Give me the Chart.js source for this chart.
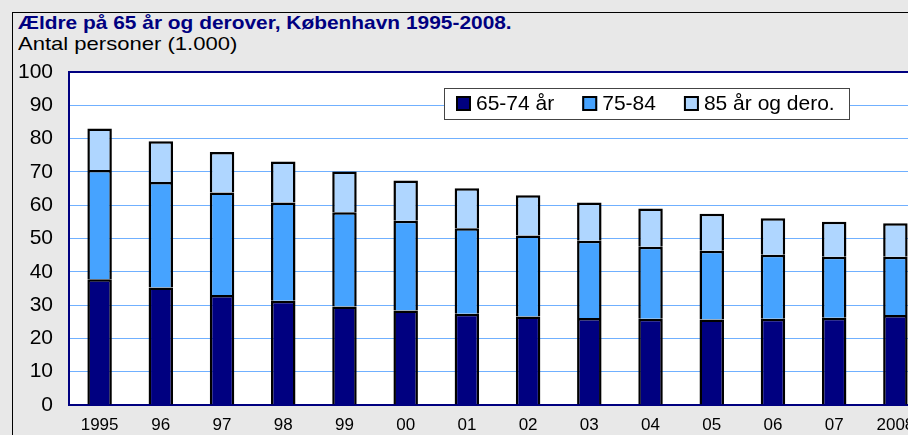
<!DOCTYPE html>
<html>
<head>
<meta charset="utf-8">
<script src="https://cdn.jsdelivr.net/npm/chart.js@4.4.1/dist/chart.umd.min.js"></script>
<style>
  body { margin: 0; width: 908px; height: 435px; overflow: hidden; background: #e8e8e8; font-family: "Liberation Sans", Arial, sans-serif; }
  #ramme { position: absolute; left: 12px; top: 12px; width: 930px; height: 440px; border-left: 1px solid #000; border-top: 1px solid #000; }
  #titel { position: absolute; left: 18px; top: 12px; font-size: 19px; font-weight: bold; color: #000080; white-space: nowrap; transform: scaleX(1.1); transform-origin: left top; }
  #undertitel { position: absolute; left: 18px; top: 33px; font-size: 19px; color: #000; white-space: nowrap; transform: scaleX(1.16); transform-origin: left top; }
  #grafAeldre { position: absolute; left: 0; top: 0; }
</style>
</head>
<body>
<div id="ramme"></div>
<div id="titel">Ældre på 65 år og derover, København 1995-2008.</div>
<div id="undertitel">Antal personer (1.000)</div>
<canvas id="grafAeldre" width="940" height="435"></canvas>
<script>
// data (1.000 personer)
const aar = ["1995", "96", "97", "98", "99", "00", "01", "02", "03", "04", "05", "06", "07", "2008"];
const alder65_74 = [37.8, 35.3, 33.0, 31.3, 29.6, 28.4, 27.4, 26.6, 26.1, 25.9, 25.7, 25.9, 26.2, 27.0];
const alder75_84 = [32.8, 31.7, 30.8, 29.5, 28.3, 26.9, 25.7, 24.3, 23.2, 21.6, 20.6, 19.2, 18.3, 17.5];
const alder85plus = [12.4, 12.2, 12.2, 12.3, 12.2, 12.1, 12.0, 12.1, 11.5, 11.5, 11.1, 11.0, 10.5, 10.1];
const navne = ["65-74 år", "75-84", "85 år og dero."];
const farver = ["#000080", "#46a3ff", "#afd6ff"];

// hvid plotflade + navy kant foroven
const plotFlade = {
  id: "plotFlade",
  beforeDraw(chart) {
    const ctx = chart.ctx;
    const a = chart.chartArea;
    ctx.save();
    ctx.fillStyle = "#ffffff";
    ctx.fillRect(a.left, a.top, a.right - a.left, a.bottom - a.top);
    ctx.restore();
  },
  afterDatasetsDraw(chart) {
    const ctx = chart.ctx;
    const a = chart.chartArea;
    ctx.save();
    ctx.strokeStyle = "#000080";
    ctx.lineWidth = 2;
    ctx.beginPath();
    ctx.moveTo(a.left, a.top);
    ctx.lineTo(a.right, a.top);
    ctx.stroke();
    ctx.restore();
  }
};

// forklaring i boks inde i plotfladen
const forklaring = {
  id: "forklaring",
  afterDraw(chart) {
    const ctx = chart.ctx;
    const x0 = 444, y0 = 88, w = 405, h = 31;
    ctx.save();
    ctx.fillStyle = "#ffffff";
    ctx.fillRect(x0, y0, w, h);
    ctx.strokeStyle = "#444";
    ctx.lineWidth = 1;
    ctx.strokeRect(x0 + 0.5, y0 + 0.5, w, h);
    ctx.font = "21px 'Liberation Sans', Arial, sans-serif";
    ctx.textBaseline = "middle";
    let x = x0 + 12;
    chart.data.datasets.forEach((ds) => {
      ctx.fillStyle = ds.backgroundColor;
      ctx.fillRect(x, y0 + 8, 15, 15);
      ctx.strokeStyle = "#000";
      ctx.lineWidth = 2;
      ctx.strokeRect(x + 1, y0 + 9, 13, 13);
      ctx.fillStyle = "#000";
      ctx.fillText(ds.label, x + 20, y0 + h / 2 + 1);
      x += 20 + ctx.measureText(ds.label).width + 28;
    });
    ctx.restore();
  }
};

const dados = {
  labels: aar,
  datasets: [
    { label: navne[0], data: alder65_74, backgroundColor: farver[0] },
    { label: navne[1], data: alder75_84, backgroundColor: farver[1] },
    { label: navne[2], data: alder85plus, backgroundColor: farver[2] },
  ],
};
dados.datasets.forEach((ds) => {
  ds.borderColor = "#000";
  ds.borderWidth = 2.5;
  ds.categoryPercentage = 1;
  ds.barPercentage = 0.4;
});

const config = {
  type: "bar",
  data: dados,
  options: {
    animation: false,
    responsive: false,
    devicePixelRatio: 1,
    layout: { padding: { left: 18, top: 72, right: 14, bottom: 0 } },
    plugins: {
      legend: { display: false },
      tooltip: { enabled: false },
    },
    scales: {
      x: {
        stacked: true,
        grid: { display: false, drawTicks: false },
        border: { display: true, color: "#000080", width: 2 },
        ticks: { color: "#000", font: { size: 17, family: "'Liberation Sans', Arial, sans-serif" }, padding: 10, maxRotation: 0, autoSkip: false },
        afterFit(scale) { scale.height = 30; },
      },
      y: {
        stacked: true,
        min: 0,
        max: 100,
        grid: { color: "#70b0ff", lineWidth: 1, drawTicks: false },
        border: { display: true, color: "#000080", width: 2 },
        ticks: { stepSize: 10, color: "#000", font: { size: 21, family: "'Liberation Sans', Arial, sans-serif" }, padding: 16 },
        afterFit(scale) { scale.width = 51; },
      },
    },
  },
  plugins: [plotFlade, forklaring],
};

const grafAeldre = new Chart(document.getElementById("grafAeldre"), config);
</script>
</body>
</html>
